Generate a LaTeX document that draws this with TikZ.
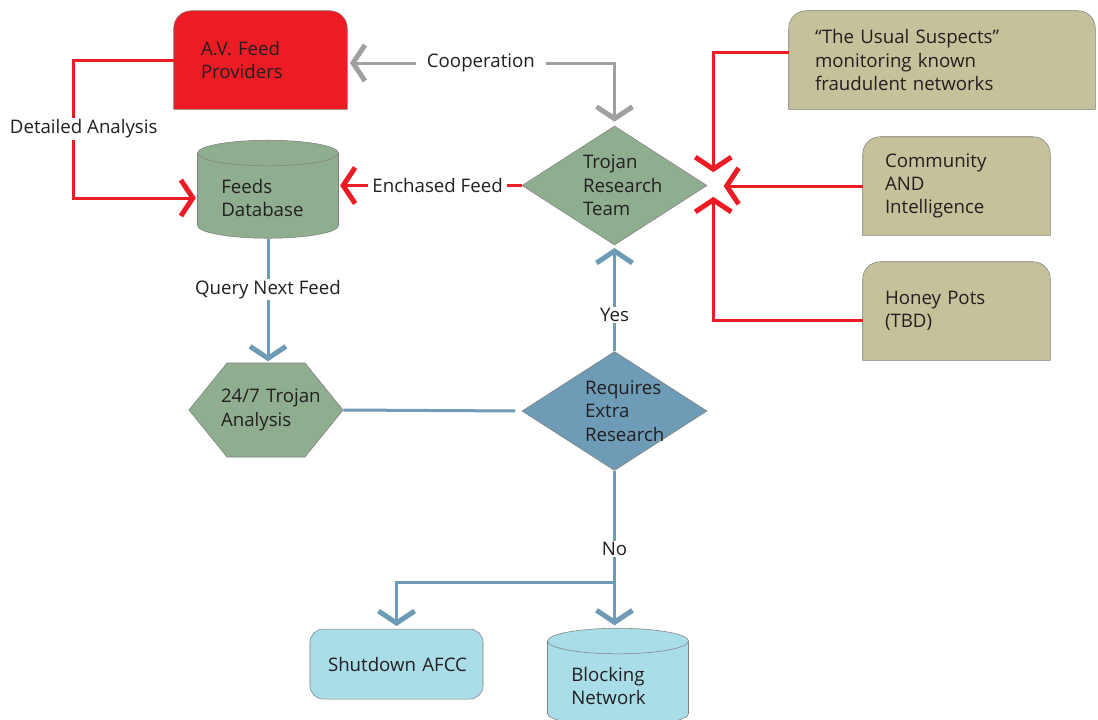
\documentclass[tikz,border=0pt]{standalone}
\usepackage{fontspec}
\setmainfont{Open Sans}
\usetikzlibrary{calc}
\usetikzlibrary{backgrounds}
\usetikzlibrary{shapes.geometric,shapes.symbols,arrows.meta}

\definecolor{avred}{RGB}{237,28,36}
\definecolor{sage}{RGB}{143,173,143}
\definecolor{boxtan}{RGB}{197,193,155}
\definecolor{steel}{RGB}{110,155,181}
\definecolor{ice}{RGB}{169,221,231}
\definecolor{coopgray}{RGB}{160,160,160}
\definecolor{edgegray}{RGB}{128,128,128}
\definecolor{ink}{RGB}{35,31,32}

\begin{document}
\begin{tikzpicture}[x=0.75pt,y=-0.75pt,font=\fontsize{14}{17.5}\selectfont,text=ink]
\tikzset{barb/.tip={Straight Barb[sharp,length=9pt,width=27pt,line width=3.75pt]}}
\tikzstyle{topbox}=[align=left, minimum height=73.5pt, inner ysep=0pt]
\tikzstyle{dbase}=[cylinder, shape border rotate=90, aspect=0.25, draw=edgegray, align=left, minimum width=105.75pt, minimum height=73.5pt, text width=70pt]
\tikzstyle{decide}=[diamond, aspect=1.55, inner sep=0pt, draw=edgegray, align=left, minimum width=138.75pt, minimum height=89.25pt]
\tikzstyle{lbl}=[fill=white, inner xsep=3pt, inner ysep=1pt]
\tikzstyle{redline}=[draw=avred, line width=2.25pt, -barb, shorten >=1pt]
\tikzstyle{blueline}=[draw=steel, line width=2.25pt]

\useasboundingbox (0,0) rectangle (1098,719);

\node (avf) at (260.5,60) [topbox, minimum width=129.75pt, text width=89.25pt, inner xsep=20.25pt] {A.V. Feed\\Providers};
\node (usual) at (942,60) [topbox, minimum width=229.5pt, text width=190.5pt, inner xsep=19.5pt] {``The Usual Suspects''\\monitoring known\\fraudulent networks};
\node (comm) at (956.5,186) [topbox, minimum width=140.25pt, text width=107.25pt, inner xsep=16.5pt] {Community\\AND\\Intelligence};
\node (honey) at (956.5,311) [topbox, minimum width=140.25pt, text width=107.25pt, inner xsep=16.5pt] {Honey Pots\\(TBD)};

\node (fdb) at (268,198) [dbase, fill=sage] {Feeds\\Database};
\node (trt) at (614.5,185.5) [decide, fill=sage, text width=47.25pt] {Trojan\\Research\\Team};
\node (hex) at (266,410) [signal, signal to=west and east, signal pointer angle=102, draw=edgegray, fill=sage, align=left, minimum height=70.5pt, text width=67.5pt, inner xsep=-4.5pt] {\mbox{24/7 Trojan}\\Analysis};
\node (rer) at (614.5,411) [decide, fill=steel, text width=44.25pt] {Requires\\Extra\\Research};
\node (shut) at (396.5,664) [draw=edgegray, fill=ice, rounded corners=10pt, align=left, minimum width=129.75pt, minimum height=52.5pt, text width=102.75pt, inner xsep=13.5pt] {\mbox{Shutdown AFCC}};
\node (block) at (618,686) [dbase, fill=ice] {Blocking\\Network};

% boxes with rounded tops only
\begin{scope}[on background layer]
\fill[white] (0,0) rectangle (1098,719);
\foreach \n/\c in {avf/avred, usual/boxtan, comm/boxtan, honey/boxtan}
  \filldraw[draw=edgegray, fill=\c] (\n.south west) -- ([yshift=-13pt]\n.north west) arc[start angle=180, end angle=90, radius=13pt] -- ([xshift=-13pt]\n.north east) arc[start angle=90, end angle=0, radius=13pt] -- (\n.south east) -- cycle;
\end{scope}

\coordinate (hub) at ($(trt.east)+(6,-1)$);

\draw[draw=coopgray, line width=2.25pt, barb-barb, shorten <=2pt, shorten >=3pt] ([yshift=-2.25pt]avf.east) -| (trt.north) node[pos=0.25, lbl, inner xsep=8pt] {Cooperation};
\draw[redline] (avf.west) -- ++(-100,0) |- (fdb.west) node[pos=0.25, lbl, xshift=7.5pt] {Detailed Analysis};
\draw[redline] (trt.west) -- (trt.west -| fdb.east) node[pos=0.46, lbl] {Enchased Feed};
\draw[redline] ([yshift=6pt]usual.west) -| ($(hub)+(0,-11)$);
\draw[redline] (comm.west) -- ($(comm.west -| hub)+(9,0)$);
\draw[redline] ([yshift=-7pt]honey.west) -| ($(hub)+(0,11)$);

\draw[blueline, -barb, shorten >=1pt] (fdb.south) -- (fdb.south |- hex.north) node[pos=0.41, lbl] {Query Next Feed};
\draw[blueline, shorten >=5pt] (hex.east) -- (rer.west);
\draw[blueline, -barb, shorten >=2pt] (rer.north) -- (trt.south) node[pos=0.34, lbl] {Yes};
\draw[blueline, -barb, shorten >=2pt] (rer.south) -- (rer.south |- block.north) node[pos=0.5, lbl] {No} coordinate[pos=0.71] (split);
\draw[blueline, -barb, shorten >=2pt] (split) -| (shut.north);

\end{tikzpicture}
\end{document}
